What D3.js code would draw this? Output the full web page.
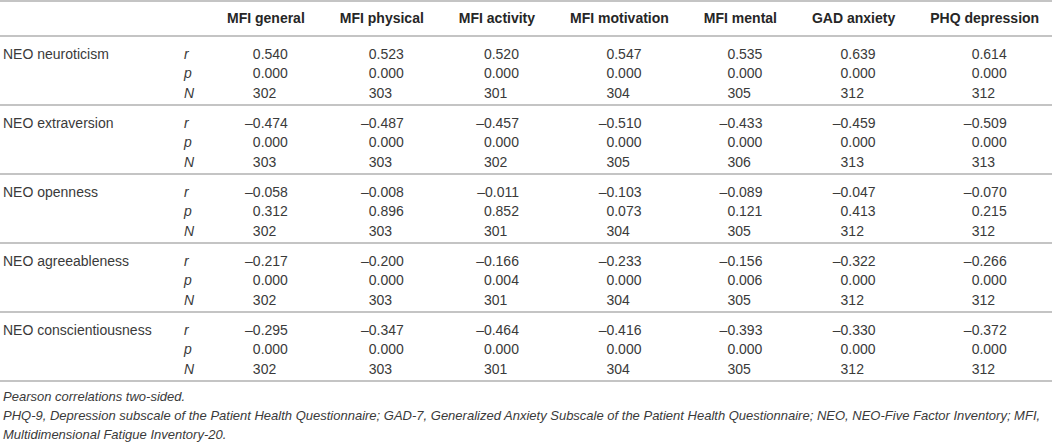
<!DOCTYPE html>
<html>
<head>
<meta charset="utf-8">
<script src="https://cdn.jsdelivr.net/npm/d3@7"></script>
<style>
  html, body { margin: 0; padding: 0; background: #fff; }
  svg { display: block; }
  text { font-family: "Liberation Sans", Arial, Helvetica, sans-serif; }
</style>
</head>
<body>
<script>
const rowLabels = ['NEO neuroticism', 'NEO extraversion', 'NEO openness', 'NEO agreeableness', 'NEO conscientiousness']
const colLabels = ['MFI general', 'MFI physical', 'MFI activity', 'MFI motivation', 'MFI mental', 'GAD anxiety', 'PHQ depression']
const statLabels = ['r', 'p', 'N']

const rValues = [
  [0.540, 0.523, 0.520, 0.547, 0.535, 0.639, 0.614],
  [-0.474, -0.487, -0.457, -0.510, -0.433, -0.459, -0.509],
  [-0.058, -0.008, -0.011, -0.103, -0.089, -0.047, -0.070],
  [-0.217, -0.200, -0.166, -0.233, -0.156, -0.322, -0.266],
  [-0.295, -0.347, -0.464, -0.416, -0.393, -0.330, -0.372]
]
const pValues = [
  [0.000, 0.000, 0.000, 0.000, 0.000, 0.000, 0.000],
  [0.000, 0.000, 0.000, 0.000, 0.000, 0.000, 0.000],
  [0.312, 0.896, 0.852, 0.073, 0.121, 0.413, 0.215],
  [0.000, 0.000, 0.004, 0.000, 0.006, 0.000, 0.000],
  [0.000, 0.000, 0.000, 0.000, 0.000, 0.000, 0.000]
]
const nValues = [
  [302, 303, 301, 304, 305, 312, 312],
  [303, 303, 302, 305, 306, 313, 313],
  [302, 303, 301, 304, 305, 312, 312],
  [302, 303, 301, 304, 305, 312, 312],
  [302, 303, 301, 304, 305, 312, 312]
]
const notes = [
  'Pearson correlations two-sided.',
  'PHQ-9, Depression subscale of the Patient Health Questionnaire; GAD-7, Generalized Anxiety Subscale of the Patient Health Questionnaire; NEO, NEO-Five Factor Inventory; MFI,',
  'Multidimensional Fatigue Inventory-20.'
]

const width = 1052, height = 443
const fontSize = 14, noteSize = 13
const textColor = '#3a3a3a', ruleColor = '#b0b0b0'
const headerTop = 36, groupHeight = 69
const firstColLeft = 227, colPad = 35, numShift = 22

const svg = d3.select('body').append('svg')
  .attr('width', width).attr('height', height)

// measure text widths with a throwaway node
const measure = (str, weight, size) => {
  const t = svg.append('text').attr('font-size', size).attr('font-weight', weight).text(str)
  const w = t.node().getComputedTextLength()
  t.remove()
  return w
}

// column centres from header widths, like an auto-width table
const headW = colLabels.map(c => measure(c, 'bold', fontSize))
const centres = []
headW.forEach((w, i) => {
  if (i === 0) centres.push(firstColLeft + w / 2)
  else centres.push(centres[i - 1] + (headW[i - 1] + w) / 2 + colPad)
})
const x = d3.scaleOrdinal().domain(colLabels).range(centres)

const y = d3.scaleBand()
  .domain(rowLabels)
  .range([headerTop, headerTop + groupHeight * rowLabels.length])
const yStat = d3.scalePoint().domain(statLabels).range([22.5, 61.5])

const fmt = v => (v < 0 ? '\u2013' : '') + Math.abs(v).toFixed(3)
const wDec = measure('0.000', 'normal', fontSize)

// rules
const rules = [1, headerTop].concat(rowLabels.map(r => y(r) + y.bandwidth()))
svg.append('g').selectAll('line')
  .data(rules)
  .enter().append('line')
  .attr('x1', 0).attr('x2', width)
  .attr('y1', d => d).attr('y2', d => d)
  .attr('stroke', ruleColor).attr('stroke-width', 1.7)

// header
svg.append('g').selectAll('text')
  .data(colLabels)
  .enter().append('text')
  .attr('x', d => x(d)).attr('y', 23)
  .attr('text-anchor', 'middle')
  .attr('font-size', fontSize).attr('font-weight', 'bold')
  .attr('fill', '#262626')
  .text(d => d)

const body = svg.append('g').attr('font-size', fontSize).attr('fill', textColor)

const groups = body.selectAll('.group')
  .data(rowLabels)
  .enter().append('g')
  .attr('class', 'group')
  .attr('transform', d => `translate(0,${y(d)})`)

groups.append('text')
  .attr('x', 3).attr('y', yStat('r'))
  .text(d => d)

groups.selectAll('.stat')
  .data(statLabels)
  .enter().append('text')
  .attr('class', 'stat')
  .attr('x', 184).attr('y', d => yStat(d))
  .attr('font-style', 'italic')
  .text(d => d)

groups.each(function (row, ri) {
  const g = d3.select(this)
  const cells = colLabels.map((col, ci) => ({ col, r: rValues[ri][ci], p: pValues[ri][ci], n: nValues[ri][ci] }))

  g.selectAll('.rv').data(cells).enter().append('text')
    .attr('x', d => x(d.col) + numShift).attr('y', yStat('r'))
    .attr('text-anchor', 'end')
    .text(d => fmt(d.r))

  g.selectAll('.pv').data(cells).enter().append('text')
    .attr('x', d => x(d.col) + numShift).attr('y', yStat('p'))
    .attr('text-anchor', 'end')
    .text(d => fmt(d.p))

  g.selectAll('.nv').data(cells).enter().append('text')
    .attr('x', d => x(d.col) + numShift - wDec).attr('y', yStat('N'))
    .text(d => d.n)
})

// footnotes
svg.append('g').selectAll('text')
  .data(notes)
  .enter().append('text')
  .attr('x', 3).attr('y', (d, i) => 401 + i * 19)
  .attr('font-size', noteSize).attr('font-style', 'italic')
  .attr('fill', textColor)
  .text(d => d)
</script>
</body>
</html>
